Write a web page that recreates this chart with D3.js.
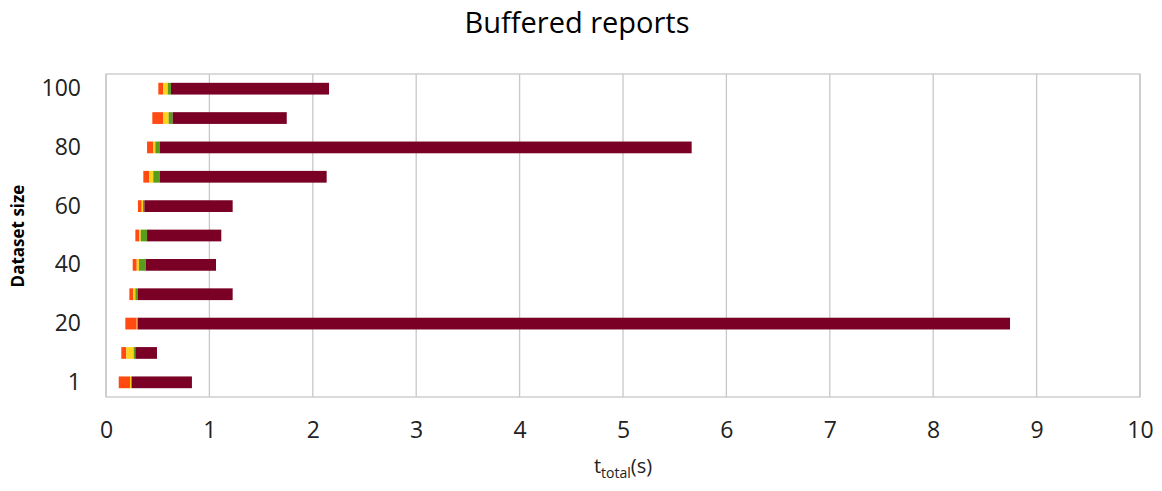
<!DOCTYPE html>
<html>
<head>
<meta charset="utf-8">
<script src="https://cdn.jsdelivr.net/npm/d3@7"></script>
<style>
  html, body { margin: 0; padding: 0; background: #fff; }
  svg { display: block; font-family: "Open Sans", "Noto Sans", sans-serif; }
</style>
</head>
<body>
<svg id="chart" width="1162" height="491"></svg>
<script>
// Dataset sizes (bottom to top)
const categories = ["1", "10", "20", "30", "40", "50", "60", "70", "80", "90", "100"];
// Only every other size gets a label on the vertical axis
const shownLabels = ["1", "20", "40", "60", "80", "100"];

// Stacked phases per dataset size, in seconds
const startOffset = [0.123, 0.148, 0.187, 0.226, 0.258, 0.284, 0.309, 0.361, 0.397, 0.448, 0.506];
const phaseA      = [0.109, 0.048, 0.110, 0.035, 0.039, 0.035, 0.036, 0.058, 0.058, 0.106, 0.048];
const phaseB      = [0.013, 0.072, 0.004, 0.023, 0.022, 0.017, 0.013, 0.038, 0.022, 0.052, 0.043];
const phaseC      = [0.002, 0.016, 0.008, 0.025, 0.065, 0.061, 0.013, 0.062, 0.042, 0.039, 0.031];
const phaseD      = [0.584, 0.209, 8.434, 0.916, 0.680, 0.718, 0.854, 1.615, 5.145, 1.103, 1.529];

const xTicks = [0, 1, 2, 3, 4, 5, 6, 7, 8, 9, 10];

const seriesKeys = ["offset", "a", "b", "c", "d"];
const seriesColors = { offset: "none", a: "#ff4a12", b: "#ffd21e", c: "#5a9c1e", d: "#7a0025" };

const rows = categories.map((c, i) => ({
  cat: c,
  offset: startOffset[i], a: phaseA[i], b: phaseB[i], c: phaseC[i], d: phaseD[i]
}));

const svg = d3.select("#chart");
const margin = { left: 106, right: 22, top: 74, bottom: 94 };
const W = 1162, H = 491;
const plotW = W - margin.left - margin.right;
const plotH = H - margin.top - margin.bottom;

const x = d3.scaleLinear().domain([0, 10]).range([margin.left, margin.left + plotW]);
const y = d3.scaleBand().domain(categories.slice().reverse())
  .range([margin.top, margin.top + plotH]).paddingInner(0.6).paddingOuter(0.3);

// Title
svg.append("text")
  .attr("x", 577).attr("y", 33)
  .attr("text-anchor", "middle")
  .attr("font-size", 29)
  .attr("fill", "#000")
  .text("Buffered reports");

// Vertical gridlines
svg.append("g")
  .selectAll("line")
  .data(xTicks)
  .join("line")
  .attr("x1", d => x(d)).attr("x2", d => x(d))
  .attr("y1", margin.top).attr("y2", margin.top + plotH)
  .attr("stroke", "#c8c8c8").attr("stroke-width", 1.3);

// Plot frame
svg.append("rect")
  .attr("x", margin.left).attr("y", margin.top)
  .attr("width", plotW).attr("height", plotH)
  .attr("fill", "none").attr("stroke", "#c8c8c8").attr("stroke-width", 1.3);

// Stacked bars
const stack = d3.stack().keys(seriesKeys)(rows);
svg.append("g")
  .selectAll("g")
  .data(stack.filter(s => s.key !== "offset"))
  .join("g")
  .attr("fill", s => seriesColors[s.key])
  .selectAll("rect")
  .data(s => s)
  .join("rect")
  .attr("x", d => x(d[0]))
  .attr("width", d => Math.max(0, x(d[1]) - x(d[0])))
  .attr("y", d => y(d.data.cat))
  .attr("height", y.bandwidth());

// Horizontal axis
const xAxis = svg.append("g")
  .attr("transform", `translate(0,${margin.top + plotH})`)
  .call(d3.axisBottom(x).tickValues(xTicks).tickFormat(d3.format("d")).tickSize(0).tickPadding(25));
xAxis.select(".domain").remove();
xAxis.selectAll("text").attr("font-size", 23).attr("fill", "#222").attr("font-family", "Open Sans, sans-serif");

// Vertical axis
const yAxis = svg.append("g")
  .attr("transform", `translate(${margin.left},0)`)
  .call(d3.axisLeft(y).tickSize(0).tickPadding(25)
    .tickFormat(d => shownLabels.includes(d) ? d : ""));
yAxis.select(".domain").remove();
yAxis.selectAll("text").attr("font-size", 23).attr("fill", "#222").attr("font-family", "Open Sans, sans-serif");

// Axis titles
const xt = svg.append("text")
  .attr("x", x(5)).attr("y", 473)
  .attr("text-anchor", "middle")
  .attr("font-size", 20)
  .attr("fill", "#222");
xt.append("tspan").text("t");
xt.append("tspan").attr("font-size", 14).attr("dy", 5).text("total");
xt.append("tspan").attr("dy", -5).text("(s)");

svg.append("text")
  .attr("transform", "translate(24,236) rotate(-90)")
  .attr("text-anchor", "middle")
  .attr("font-size", 17)
  .attr("font-weight", "bold")
  .attr("fill", "#000")
  .text("Dataset size");
</script>
</body>
</html>
